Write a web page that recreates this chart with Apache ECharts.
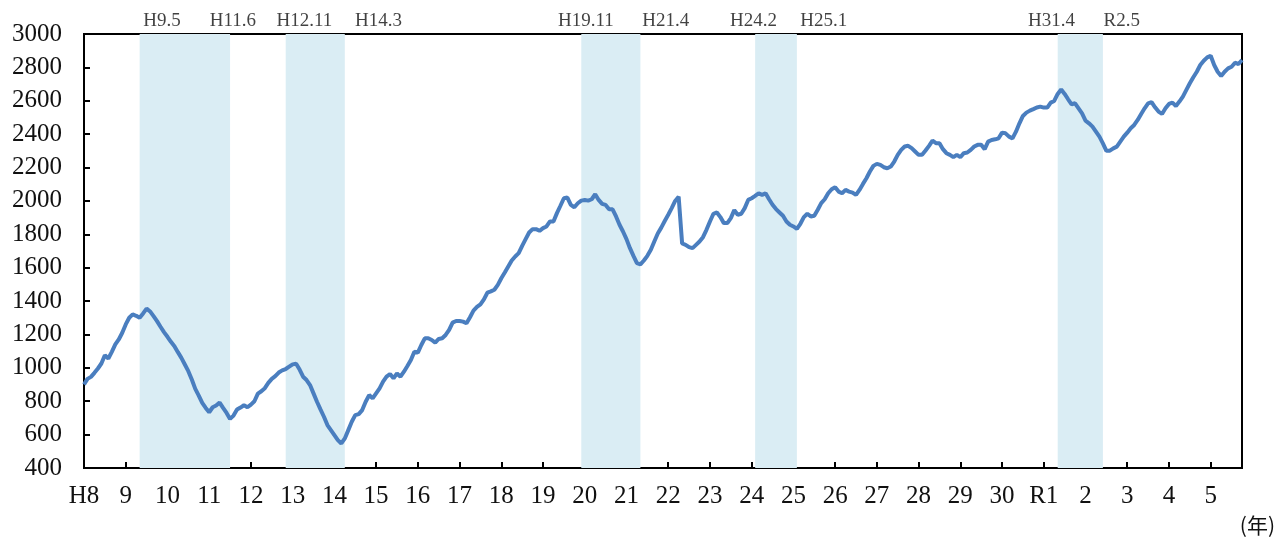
<!DOCTYPE html>
<html>
<head>
    <meta charset="utf-8">
    <title>ECharts</title>
    <script src="https://cdn.jsdelivr.net/npm/echarts@6/dist/echarts.min.js"></script>
</head>
<body style="margin:0">
    <div id="main" style="width:1281px;height:542px"></div>
</body>
<script>
    // 年ラベル（H8 = 1996 ... R5 = 2023）
    var yearLabels = ['H8','9','10','11','12','13','14','15','16','17','18','19','20','21','22',
        '23','24','25','26','27','28','29','30','R1','2','3','4','5'];

    // 月次の値（1996年1月～2023年10月）
    var values = [
        900,934,946,970,996,1026,1076,1056,1096,1140,1170,1210,
        1260,1300,1320,1312,1300,1326,1355,1338,1310,1280,1246,1214,
        1186,1156,1130,1094,1060,1020,980,930,874,834,790,760,
        734,764,774,792,760,730,694,714,750,762,776,764,
        780,800,846,860,878,910,934,950,972,985,993,1007,
        1021,1025,990,947,927,897,847,797,751,707,657,627,
        597,567,547,577,627,677,717,723,747,797,837,817,
        847,877,917,947,963,937,967,947,977,1011,1047,1097,
        1091,1137,1177,1177,1167,1151,1173,1177,1197,1227,1271,1281,
        1281,1277,1267,1303,1343,1365,1380,1410,1450,1458,1468,1497,
        1537,1571,1607,1643,1667,1687,1731,1771,1811,1831,1831,1821,
        1837,1847,1877,1877,1927,1971,2016,2020,1976,1962,1986,2002,
        2006,2002,2010,2040,2006,1982,1976,1950,1950,1907,1857,1817,
        1771,1717,1671,1627,1620,1643,1671,1707,1757,1805,1840,1880,
        1917,1957,2000,2025,1745,1737,1723,1717,1737,1757,1783,1827,
        1877,1923,1931,1903,1867,1867,1897,1945,1917,1923,1957,2006,
        2016,2030,2046,2036,2046,2010,1977,1951,1931,1911,1877,1857,
        1847,1833,1863,1903,1923,1907,1911,1947,1987,2010,2046,2070,
        2082,2056,2046,2066,2056,2050,2036,2066,2102,2136,2176,2210,
        2222,2216,2202,2196,2206,2236,2276,2306,2326,2330,2316,2296,
        2276,2276,2302,2330,2361,2346,2346,2310,2286,2276,2262,2276,
        2262,2286,2290,2306,2326,2336,2336,2310,2355,2365,2369,2375,
        2409,2405,2385,2375,2415,2465,2509,2529,2541,2550,2560,2565,
        2559,2559,2589,2599,2641,2668,2641,2609,2579,2585,2555,2525,
        2481,2465,2445,2415,2385,2345,2300,2301,2315,2325,2355,2385,
        2409,2435,2455,2485,2521,2555,2585,2592,2561,2535,2521,2555,
        2581,2589,2569,2595,2625,2665,2705,2741,2774,2814,2840,2860,
        2870,2814,2774,2748,2774,2794,2804,2828,2820,2844
    ];

    // 景気後退期（月インデックス：開始, 終了）
    var bandStart = [16, 58, 143, 193, 280];
    var bandEnd   = [42, 75, 160, 205, 293];

    // 上部の日付ラベル
    var peakLabels = ['H9.5','H11.6','H12.11','H14.3','H19.11','H21.4','H24.2','H25.1','H31.4','R2.5'];
    var peakLabelPos = [22.4, 42.8, 63.4, 84.7, 144.3, 167.3, 192.5, 212.7, 278.2, 298.4];

    var months = [];
    for (var i = 0; i < values.length; i++) {
        months.push(yearLabels[Math.floor(i / 12)] + '.' + (i % 12 + 1));
    }

    var areas = [];
    for (var j = 0; j < bandStart.length; j++) {
        areas.push([{xAxis: bandStart[j]}, {xAxis: bandEnd[j]}]);
    }
    var tops = [];
    for (var k = 0; k < peakLabels.length; k++) {
        tops.push([peakLabelPos[k], 3000, peakLabels[k]]);
    }

    var font = '"Liberation Serif", serif';
    var mychart = echarts.init(document.getElementById('main'));
    var option = {
        animation: false,
        grid: {
            left: 84, right: 39, top: 34, bottom: 74,
            show: true, borderColor: '#000', borderWidth: 2
        },
        xAxis: [
            {
                type: 'category',
                boundaryGap: false,
                data: months,
                axisLine: {lineStyle: {color: '#000', width: 2}},
                axisTick: {
                    inside: true, length: 6,
                    interval: function (idx) { return idx % 12 === 0; },
                    lineStyle: {color: '#000', width: 2}
                },
                axisLabel: {
                    interval: function (idx) { return idx % 12 === 0; },
                    formatter: function (v) { return v.split('.')[0]; },
                    color: '#111', fontSize: 25, fontFamily: font, margin: 16
                },
                splitLine: {show: false}
            },
            {
                type: 'value',
                min: 0, max: values.length - 1,
                show: false
            }
        ],
        yAxis: {
            type: 'value',
            min: 400, max: 3000, interval: 200,
            axisLine: {show: true, lineStyle: {color: '#000', width: 2}},
            axisTick: {show: true, inside: true, length: 6, lineStyle: {color: '#000', width: 2}},
            axisLabel: {
                color: '#111', fontSize: 25, fontFamily: font, margin: 22,
                formatter: function (v) { return String(v); }
            },
            splitLine: {show: false}
        },
        series: [
            {
                type: 'scatter',
                xAxisIndex: 1,
                z: 1,
                symbolSize: 0,
                data: tops,
                silent: true,
                label: {
                    show: true, position: 'top', distance: 3,
                    formatter: function (p) { return p.data[2]; },
                    color: '#111', fontSize: 19, fontFamily: font
                },
                markArea: {
                    silent: true,
                    itemStyle: {color: '#daedf4'},
                    data: areas
                }
            },
            {
                type: 'line',
                z: 5,
                data: values,
                showSymbol: false,
                lineStyle: {color: '#4a7ebf', width: 4}
            }
        ],
        graphic: [{
            type: 'text',
            right: 6, top: 515,
            style: {text: '(年)', fontSize: 21, fontFamily: '"Noto Sans CJK JP"', fill: '#111'}
        }]
    };
    mychart.setOption(option);
</script>
</html>
